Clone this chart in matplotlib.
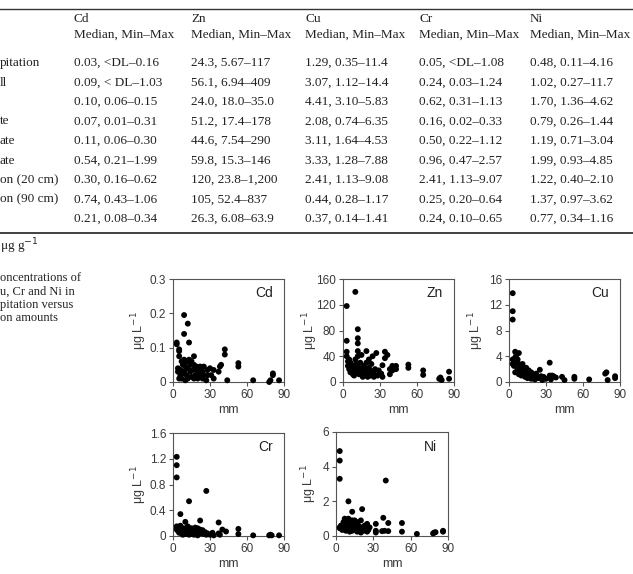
import matplotlib
matplotlib.use("Agg")
import matplotlib.pyplot as plt
from matplotlib.lines import Line2D

# ---------------- table data ----------------
row_labels = ["pitation", "ll", "", "te", "ate", "ate",
              "on (20 cm)", "on (90 cm)", ""]
metals = ["Cd", "Zn", "Cu", "Cr", "Ni"]
table_cells = [
    ["0.03, <DL\u20130.16", "24.3, 5.67\u2013117", "1.29, 0.35\u201311.4", "0.05, <DL\u20131.08", "0.48, 0.11\u20134.16"],
    ["0.09, < DL\u20131.03", "56.1, 6.94\u2013409", "3.07, 1.12\u201314.4", "0.24, 0.03\u20131.24", "1.02, 0.27\u201311.7"],
    ["0.10, 0.06\u20130.15", "24.0, 18.0\u201335.0", "4.41, 3.10\u20135.83", "0.62, 0.31\u20131.13", "1.70, 1.36\u20134.62"],
    ["0.07, 0.01\u20130.31", "51.2, 17.4\u2013178", "2.08, 0.74\u20136.35", "0.16, 0.02\u20130.33", "0.79, 0.26\u20131.44"],
    ["0.11, 0.06\u20130.30", "44.6, 7.54\u2013290", "3.11, 1.64\u20134.53", "0.50, 0.22\u20131.12", "1.19, 0.71\u20133.04"],
    ["0.54, 0.21\u20131.99", "59.8, 15.3\u2013146", "3.33, 1.28\u20137.88", "0.96, 0.47\u20132.57", "1.99, 0.93\u20134.85"],
    ["0.30, 0.16\u20130.62", "120, 23.8\u20131,200", "2.41, 1.13\u20139.08", "2.41, 1.13\u20139.07", "1.22, 0.40\u20132.10"],
    ["0.74, 0.43\u20131.06", "105, 52.4\u2013837", "0.44, 0.28\u20131.17", "0.25, 0.20\u20130.64", "1.37, 0.97\u20133.62"],
    ["0.21, 0.08\u20130.34", "26.3, 6.08\u201363.9", "0.37, 0.14\u20131.41", "0.24, 0.10\u20130.65", "0.77, 0.34\u20131.16"],
]
caption_lines = ["oncentrations of", "u, Cr and Ni in", "pitation versus", "on amounts"]

# ---------------- scatter data (mm, ug/L) ----------------
cd_x = [3, 3, 4, 4, 5, 5, 5, 6, 6, 7, 7, 8, 8, 9, 9, 9, 9, 10, 10, 11, 11, 12, 12, 12, 13, 13,
        14, 14, 15, 15, 16, 17, 17, 18, 18, 19, 20, 20, 21, 22, 22, 24, 24, 25, 27, 28, 30, 31,
        33, 33, 37, 38, 39, 42, 42, 44, 53, 53, 65, 78, 79, 81, 81, 86, 28, 17, 5, 25]
cd_y = [0.115, 0.11, 0.04, 0.03, 0.095, 0.09, 0.075, 0.02, 0.035, 0.06, 0.01, 0.05, 0.025,
        0.195, 0.14, 0.065, 0.03, 0.005, 0.045, 0.06, 0.02, 0.17, 0.04, 0.01, 0.115, 0.065,
        0.03, 0.05, 0.06, 0.015, 0.035, 0.075, 0.05, 0.02, 0.04, 0.045, 0.03, 0.01, 0.035,
        0.045, 0.02, 0.03, 0.01, 0.045, 0.005, 0.035, 0.04, 0.02, 0.035, 0.01, 0.03, 0.045,
        0.05, 0.095, 0.08, 0.005, 0.055, 0.045, 0.005, 0.0, 0.005, 0.025, 0.02, 0.005, 0.02,
        0.01, 0.01, 0.02]

zn_x = [3, 3, 3, 3, 4, 4, 5, 5, 6, 6, 7, 7, 8, 8, 9, 9, 10, 10, 10, 11, 11, 12, 12, 12, 12, 12,
        13, 13, 14, 14, 15, 15, 16, 16, 17, 18, 18, 19, 19, 20, 20, 21, 21, 22, 22, 23, 24, 24,
        25, 25, 26, 27, 28, 29, 31, 32, 32, 34, 34, 36, 38, 38, 40, 40, 43, 43, 53, 53, 65, 65,
        78, 79, 80, 86, 86]
zn_y = [118, 64, 47, 40, 32, 25, 35, 20, 30, 15, 27, 22, 18, 12, 25, 10, 140, 35, 20, 15, 28,
        82, 68, 60, 48, 40, 22, 12, 30, 18, 42, 20, 15, 8, 25, 12, 20, 48, 30, 15, 8, 35, 22,
        18, 10, 28, 12, 40, 15, 8, 20, 45, 10, 18, 13, 26, 8, 47, 37, 42, 20, 12, 25, 18, 25,
        20, 27, 22, 18, 11, 5, 7, 3, 16, 5]

cu_x = [3, 3, 3, 3, 3, 4, 4, 5, 5, 5, 6, 6, 7, 7, 8, 8, 8, 9, 9, 10, 10, 11, 11, 12, 12, 13, 13,
        14, 14, 15, 15, 16, 16, 17, 18, 18, 19, 20, 21, 21, 22, 23, 24, 25, 26, 27, 28, 30, 33,
        33, 34, 35, 36, 38, 43, 45, 53, 53, 65, 78, 79, 80, 86, 86]
cu_y = [13.8, 11.0, 9.7, 3.5, 2.8, 3.2, 2.5, 4.7, 3.8, 1.5, 4.2, 3.0, 3.5, 2.0, 4.5, 2.8, 1.2,
        1.8, 2.5, 1.0, 2.2, 1.5, 2.8, 1.2, 2.0, 0.8, 1.6, 2.2, 1.0, 1.4, 0.6, 1.8, 1.1, 0.9,
        1.5, 0.5, 1.2, 0.8, 1.0, 0.4, 1.3, 0.7, 0.6, 1.9, 0.9, 0.3, 0.8, 0.5, 3.0, 1.0, 0.4,
        1.0, 0.9, 0.7, 0.8, 0.3, 0.8, 0.5, 0.4, 1.3, 1.5, 0.3, 0.9, 0.6]

cr_x = [3, 3, 3, 3, 3, 4, 4, 5, 5, 6, 6, 7, 7, 8, 8, 9, 10, 10, 10, 11, 12, 12, 13, 13, 13, 14,
        15, 15, 16, 17, 17, 18, 18, 19, 20, 20, 21, 22, 22, 23, 24, 25, 26, 27, 27, 28, 30, 32,
        33, 37, 37, 38, 40, 43, 53, 53, 65, 78, 79, 80, 86]
cr_y = [1.23, 1.1, 0.91, 0.15, 0.1, 0.12, 0.08, 0.14, 0.05, 0.34, 0.16, 0.1, 0.04, 0.12, 0.02,
        0.07, 0.22, 0.12, 0.03, 0.09, 0.15, 0.05, 0.54, 0.1, 0.02, 0.08, 0.12, 0.03, 0.06, 0.1,
        0.02, 0.13, 0.05, 0.08, 0.12, 0.01, 0.05, 0.24, 0.1, 0.04, 0.09, 0.03, 0.06, 0.70,
        0.02, 0.04, 0.02, 0.05, 0.01, 0.21, 0.04, 0.02, 0.1, 0.07, 0.11, 0.03, 0.01, 0.01,
        0.02, 0.01, 0.01]

ni_x = [3, 3, 3, 3, 3, 4, 5, 5, 6, 6, 7, 7, 8, 8, 9, 10, 10, 10, 11, 11, 12, 13, 13, 13, 14, 15,
        15, 16, 17, 17, 18, 19, 20, 20, 21, 21, 22, 23, 24, 25, 25, 26, 27, 32, 32, 32, 37, 38,
        39, 40, 42, 42, 53, 53, 65, 78, 79, 80, 86, 86]
ni_y = [4.9, 4.35, 3.3, 0.5, 0.45, 0.6, 0.55, 0.35, 0.8, 0.4, 1.0, 0.6, 0.9, 0.3, 0.7, 2.0, 1.0,
        0.5, 0.85, 0.25, 0.6, 1.4, 0.9, 0.3, 0.7, 0.5, 0.9, 0.35, 0.8, 0.25, 0.6, 0.4, 0.9, 0.2,
        1.55, 0.5, 0.3, 0.6, 0.45, 0.7, 0.25, 0.35, 0.5, 0.7, 0.3, 0.2, 0.28, 1.05, 0.3, 3.2,
        0.75, 0.28, 0.75, 0.25, 0.12, 0.15, 0.2, 0.22, 0.25, 0.3]

W, H = 633, 574
SERIF = "Liberation Serif"
SANS = "Liberation Sans"
TXT = "#222222"
GREY = "#3a3a3a"

fig = plt.figure(figsize=(W / 100, H / 100), dpi=100, facecolor="white")


def fx(px):
    return px / W


def fy(py):
    return 1 - py / H


# ---------------- table ----------------
col_x = [74, 191, 305, 419, 530]
fig.add_artist(Line2D([0, 1], [fy(9), fy(9)], color="#333333", lw=1.0))
for cx, m in zip(col_x, metals):
    fig.text(fx(cx), fy(19), m, fontsize=9.5, family=SERIF, color=TXT, va="center")
    fig.text(fx(cx), fy(35), "Median, Min\u2013Max", fontsize=9.5, family=SERIF,
             color=TXT, va="center")

row_y0, row_dy = 63, 19.5
for i, (lab, cells) in enumerate(zip(row_labels, table_cells)):
    y = fy(row_y0 + i * row_dy)
    fig.text(0, y, lab, fontsize=9.5, family=SERIF, color=TXT, va="center")
    for cx, c in zip(col_x, cells):
        fig.text(fx(cx), y, c, fontsize=9.5, family=SERIF, color=TXT, va="center")

fig.add_artist(Line2D([0, 1], [fy(233), fy(233)], color="#333333", lw=1.3))
fig.text(0, fy(246), "\u03bcg g$^{-1}$", fontsize=9.5, family=SERIF, color=TXT, va="center")

for i, line in enumerate(caption_lines):
    fig.text(0, fy(278 + i * 13.3), line, fontsize=9, family=SERIF, color=TXT, va="center")

# ---------------- scatter panels ----------------
panels = [
    ("Cd", cd_x, cd_y, (0, 0.3), [0, 0.1, 0.2, 0.3], (173, 279, 284, 382), -0.22),
    ("Zn", zn_x, zn_y, (0, 160), [0, 40, 80, 120, 160], (343, 279, 454, 382), -0.21),
    ("Cu", cu_x, cu_y, (0, 16), [0, 4, 8, 12, 16], (509, 279, 620, 382), -0.21),
    ("Cr", cr_x, cr_y, (0, 1.6), [0, 0.4, 0.8, 1.2, 1.6], (173, 433, 284, 536), -0.22),
    ("Ni", ni_x, ni_y, (0, 6), [0, 2, 4, 6], (336, 432, 448, 536), -0.15),
]

for name, xs, ys, ylim, yticks, (l, t, r, b), lab_x in panels:
    ax = fig.add_axes([fx(l), fy(b), fx(r - l), (b - t) / H])
    ax.scatter(xs, ys, s=18, color="black", edgecolors="none", clip_on=False, zorder=3)
    ax.set_xlim(0, 90)
    ax.set_ylim(*ylim)
    ax.set_xticks([0, 30, 60, 90])
    ax.set_yticks(yticks)
    ax.set_yticklabels([f"{v:g}" for v in yticks])
    for sp in ax.spines.values():
        sp.set_color("#555555")
        sp.set_linewidth(0.8)
    ax.tick_params(direction="out", length=3, width=0.8, color="#555555",
                   labelsize=8.5, labelcolor=GREY, pad=2)
    for lbl in ax.get_xticklabels() + ax.get_yticklabels():
        lbl.set_family(SANS)
    ax.set_xlabel("mm", fontsize=9, family=SANS, color=GREY, labelpad=2)
    ax.set_ylabel("\u03bcg L$^{-1}$", fontsize=9, family=SANS, color=GREY)
    ax.yaxis.set_label_coords(lab_x, 0.5)
    ax.text(0.9, 0.86, name, transform=ax.transAxes, ha="right", va="center",
            fontsize=10, family=SANS, color="#222222")

fig.savefig("out.png", dpi=100)
